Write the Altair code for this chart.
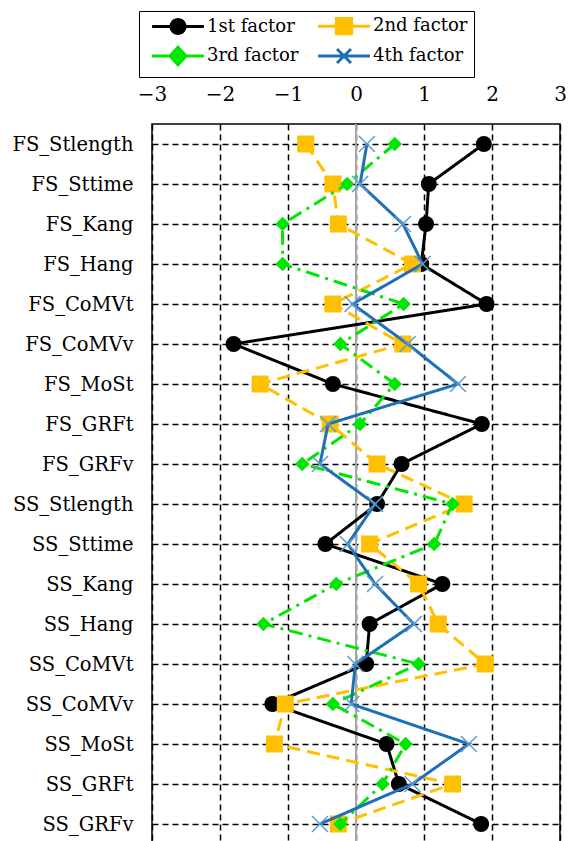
import altair as alt
import pandas as pd
import numpy as np

categories = ["FS_Stlength", "FS_Sttime", "FS_Kang", "FS_Hang", "FS_CoMVt", "FS_CoMVv",
              "FS_MoSt", "FS_GRFt", "FS_GRFv", "SS_Stlength", "SS_Sttime", "SS_Kang",
              "SS_Hang", "SS_CoMVt", "SS_CoMVv", "SS_MoSt", "SS_GRFt", "SS_GRFv"]
f1 = [1.88, 1.07, 1.03, 0.96, 1.92, -1.80, -0.34, 1.85, 0.67, 0.31, -0.45, 1.27, 0.20, 0.15, -1.23, 0.45, 0.63, 1.84]
f2 = [-0.74, -0.34, -0.26, 0.83, -0.34, 0.69, -1.41, -0.38, 0.31, 1.59, 0.20, 0.92, 1.21, 1.90, -1.04, -1.20, 1.42, -0.26]
f3 = [0.57, -0.13, -1.08, -1.08, 0.70, -0.23, 0.57, 0.06, -0.79, 1.42, 1.15, -0.29, -1.36, 0.92, -0.34, 0.73, 0.39, -0.23]
f4 = [0.16, 0.06, 0.69, 0.98, -0.05, 0.76, 1.50, -0.41, -0.53, 0.28, -0.12, 0.28, 0.85, -0.01, -0.07, 1.66, 0.83, -0.53]
series_names = ["1st factor", "2nd factor", "3rd factor", "4th factor"]
x_ticks = [-3, -2, -1, 0, 1, 2, 3]

FONT = "DejaVu Serif"
line_colors = ["#000000", "#FFC000", "#00E600", "#1F6FB4"]
marker_colors = ["#000000", "#FFC000", "#00E600", "#5B9BD5"]
dashes = [[1, 0], [13, 7], [14, 6, 3, 6], [1, 0]]
X_PATH = "M-1,-1L1,1M-1,1L1,-1"

rows = []
for name, vals in zip(series_names, [f1, f2, f3, f4]):
    for i, (c, v) in enumerate(zip(categories, vals)):
        rows.append({"series": name, "cat": c, "idx": i, "value": v})
df = pd.DataFrame(rows)

xenc = alt.X("value:Q", scale=alt.Scale(domain=[-3, 3], nice=False, zero=False),
             axis=alt.Axis(orient="top", values=x_ticks, format="d", title=None, domain=False, ticks=False,
                           labelPadding=20, labelFont=FONT, labelFontSize=20, labelColor="black",
                           grid=True, gridColor="black", gridDash=[6, 4], gridWidth=1.5,
                           labelFlush=False))
yenc = alt.Y("cat:N", sort=categories, scale=alt.Scale(type="point", padding=0.5),
             axis=alt.Axis(title=None, domain=False, ticks=False, labelPadding=19,
                           labelFont=FONT, labelFontSize=19.5, labelColor="black",
                           grid=True, gridColor="black", gridDash=[6, 4], gridWidth=1.5))

base = alt.Chart(df)
zero = alt.Chart(pd.DataFrame({"value": [0]})).mark_rule(color="#A6A6A6", strokeWidth=2).encode(x="value:Q")

layers = [base.mark_point(opacity=0).encode(x=xenc, y=yenc), zero]
shapes = ["circle", "square", "diamond", X_PATH]
sizes = [256, 289, 210, 256]
for k, name in enumerate(series_names):
    sub = base.transform_filter(alt.datum.series == name)
    layers.append(sub.mark_line(color=line_colors[k], strokeWidth=3, strokeDash=dashes[k]).encode(
        x="value:Q", y=alt.Y("cat:N", sort=categories), order="idx:Q"))
    if k < 3:
        pt = sub.mark_point(shape=shapes[k], filled=True, color=marker_colors[k], size=sizes[k], opacity=1)
    else:
        pt = sub.mark_point(shape=shapes[k], filled=False, color=marker_colors[k], size=sizes[k],
                            strokeWidth=1.5, opacity=1)
    layers.append(pt.encode(x="value:Q", y=alt.Y("cat:N", sort=categories)))

def poly_circle(r=1.0, n=20):
    pts = [(r * np.cos(2 * np.pi * t / n), r * np.sin(2 * np.pi * t / n)) for t in range(n)]
    return "M" + "L".join(f"{x:.3f},{y:.3f}" for x, y in pts) + "Z"

L = 3.7
legend_paths = [
    f"M-{L},0H{L}" + poly_circle(1.0),
    f"M-{L},0H{L}M-1.1,-1.1H1.1V1.1H-1.1Z",
    f"M-{L},0H{L}M0,-1.25L1.15,0L0,1.25L-1.15,0Z",
    f"M-{L},0H{L}M-1,-1L1,1M-1,1L1,-1",
]
leg = alt.Legend(title=None, orient="none", legendX=-13, legendY=-113, columns=2, direction="horizontal",
                 labelFont=FONT, labelFontSize=18, labelColor="black",
                 symbolSize=196, symbolStrokeWidth=3, symbolOpacity=1,
                 symbolOffset=24, labelOffset=20, columnPadding=12, rowPadding=1,
                 padding=6, strokeColor="black", fillColor="white")
dummy = base.transform_filter("false").mark_point(filled=True, strokeWidth=3).encode(
    x="value:Q", y=alt.Y("cat:N", sort=categories),
    fill=alt.Fill("series:N", scale=alt.Scale(domain=series_names, range=line_colors), legend=leg),
    stroke=alt.Stroke("series:N", scale=alt.Scale(domain=series_names, range=line_colors), legend=leg),
    shape=alt.Shape("series:N", scale=alt.Scale(domain=series_names, range=legend_paths), legend=leg),
)
layers.append(dummy)

chart = alt.layer(*layers).properties(
    width=408, height=720,
    autosize=alt.AutoSizeParams(type="none"),
    padding={"left": 152, "top": 124, "right": 9, "bottom": 0},
    background="white",
).configure_view(stroke="black", strokeWidth=1.5)

chart.save("out.html", embed_options={"renderer": "svg", "actions": False})
